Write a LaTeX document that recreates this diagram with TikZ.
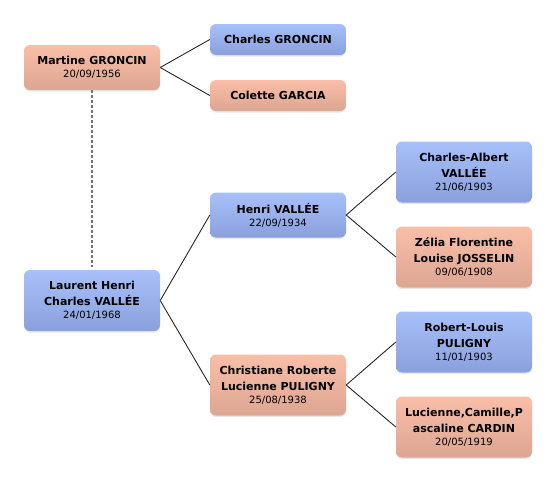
\documentclass[tikz,border=0pt]{standalone}
\usepackage{fontspec}
\setmainfont{DejaVu Sans}
\usetikzlibrary{shadows}
\definecolor{bluetop}{RGB}{168,192,250}
\definecolor{bluebot}{RGB}{138,160,220}
\definecolor{pinktop}{RGB}{250,190,168}
\definecolor{pinkbot}{RGB}{220,166,146}
\newcommand{\nm}[1]{{\bfseries #1}}
\newcommand{\dt}[1]{{\fontsize{10}{13}\selectfont #1}}
\tikzset{
  person/.style={rounded corners=6pt, minimum width=136pt, inner sep=0pt, align=center,
    font=\fontsize{11}{16}\selectfont,
    drop shadow={opacity=0.18, shadow xshift=0pt, shadow yshift=-1.5pt}},
  male/.style={person, top color=bluetop, bottom color=bluebot},
  female/.style={person, top color=pinktop, bottom color=pinkbot},
  link/.style={draw=black!85, line width=0.9pt},
  marriage/.style={draw=black!55, line width=1.2pt, dash pattern=on 3pt off 2pt, shorten >=3pt}
}
\begin{document}
\begin{tikzpicture}[x=1pt,y=-1pt]
\useasboundingbox (0,0) rectangle (556,482);
\node[female, minimum height=45pt] (martine) at (92,67.5) {\nm{Martine GRONCIN}\\[-3pt]\dt{20/09/1956}};
\node[male, minimum height=31pt] (charlesg) at (278,39.5) {\nm{Charles GRONCIN}};
\node[female, minimum height=31pt] (colette) at (278,95.5) {\nm{Colette GARCIA}};
\node[male, minimum height=61pt] (laurent) at (92,300.5) {\nm{Laurent Henri}\\\nm{Charles VALLÉE}\\[-3pt]\dt{24/01/1968}};
\node[male, minimum height=45pt] (henri) at (278,215) {\nm{Henri VALLÉE}\\[-3pt]\dt{22/09/1934}};
\node[female, minimum height=61pt] (christiane) at (278,385) {\nm{Christiane Roberte}\\\nm{Lucienne PULIGNY}\\[-3pt]\dt{25/08/1938}};
\node[male, minimum height=61pt] (charlesa) at (464,172) {\nm{Charles-Albert}\\\nm{VALLÉE}\\[-3pt]\dt{21/06/1903}};
\node[female, minimum height=61pt] (zelia) at (464,257) {\nm{Zélia Florentine}\\\nm{Louise JOSSELIN}\\[-3pt]\dt{09/06/1908}};
\node[male, minimum height=61pt] (robert) at (464,342) {\nm{Robert-Louis}\\\nm{PULIGNY}\\[-3pt]\dt{11/01/1903}};
\node[female, minimum height=61pt] (lucienne) at (464,427) {\nm{Lucienne,Camille,P}\\\nm{ascaline CARDIN}\\[-3pt]\dt{20/05/1919}};
\draw[link] (martine.east) -- (charlesg.west);
\draw[link] (martine.east) -- (colette.west);
\draw[link] (laurent.east) -- (henri.west);
\draw[link] (laurent.east) -- (christiane.west);
\draw[link] (henri.east) -- (charlesa.west);
\draw[link] (henri.east) -- (zelia.west);
\draw[link] (christiane.east) -- (robert.west);
\draw[link] (christiane.east) -- (lucienne.west);
\draw[marriage] (martine.south) -- (laurent.north);
\end{tikzpicture}
\end{document}
